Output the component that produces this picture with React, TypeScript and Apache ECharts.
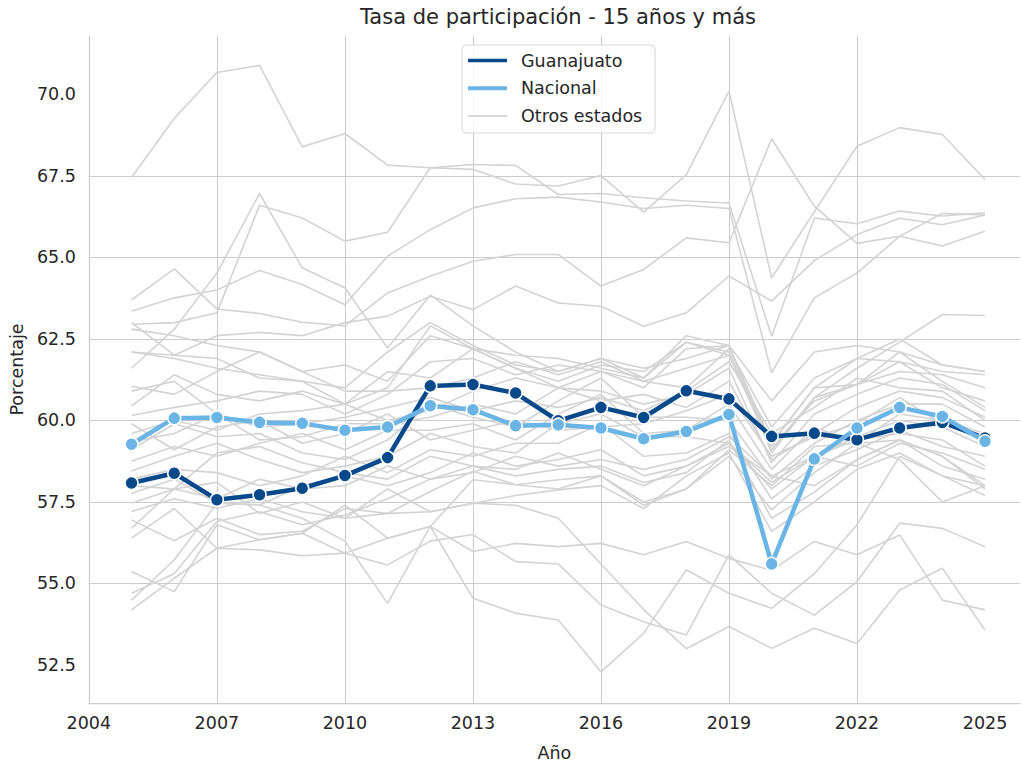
import React, { useEffect, useRef } from "react";
import * as echarts from "echarts";

const years = [2005, 2006, 2007, 2008, 2009, 2010, 2011, 2012, 2013, 2014, 2015, 2016, 2017, 2018, 2019, 2020, 2021, 2022, 2023, 2024, 2025];
const xTicks = [2004, 2007, 2010, 2013, 2016, 2019, 2022, 2025];
const yTicks = [52.5, 55, 57.5, 60, 62.5, 65, 67.5, 70];

const guanajuato = [58.08, 58.38, 57.57, 57.72, 57.92, 58.31, 58.86, 61.06, 61.1, 60.84, 59.99, 60.4, 60.09, 60.91, 60.66, 59.51, 59.61, 59.41, 59.77, 59.94, 59.46];
const nacional = [59.27, 60.07, 60.09, 59.94, 59.91, 59.7, 59.8, 60.45, 60.33, 59.84, 59.87, 59.77, 59.44, 59.66, 60.18, 55.6, 58.82, 59.77, 60.4, 60.12, 59.36];

const otrosEstados: number[][] = [
  [67.45, 69.26, 70.67, 70.89, 68.39, 68.8, 67.83, 67.75, 67.85, 67.82, 66.93, 66.96, 66.83, 66.73, 66.67, 62.58, 66.21, 66.03, 66.42, 66.27, 66.37],
  [62.95, 63.0, 63.3, 66.6, 66.21, 65.5, 65.77, 67.75, 67.7, 67.25, 67.19, 67.51, 66.39, 67.54, 70.1, 64.37, 66.4, 68.41, 68.98, 68.77, 67.39],
  [63.35, 63.76, 64.0, 64.6, 64.17, 63.55, 65.04, 65.85, 66.52, 66.8, 66.85, 66.7, 66.5, 66.6, 66.5, 61.46, 63.76, 64.52, 65.65, 66.35, 66.3],
  [63.7, 64.65, 63.42, 63.28, 63.01, 62.9, 63.91, 64.42, 64.88, 65.09, 65.09, 64.12, 64.63, 65.6, 65.45, 68.64, 66.57, 65.43, 65.65, 65.35, 65.8],
  [62.1, 62.0, 62.6, 62.7, 62.6, 63.0, 63.2, 63.81, 63.4, 64.12, 63.6, 63.5, 62.89, 63.3, 64.43, 63.66, 64.9, 65.7, 66.2, 66.0, 66.3],
  [61.6, 62.8, 64.52, 66.96, 64.68, 64.06, 62.22, 63.85, 62.9, 62.1, 61.5, 61.9, 61.3, 62.4, 62.0, 59.2, 60.6, 61.1, 61.8, 61.5, 61.4],
  [62.8, 62.6, 62.3, 62.1, 61.5, 61.7, 61.2, 62.6, 62.2, 62.0, 61.9, 61.6, 61.3, 62.6, 62.3, 59.0, 60.7, 61.6, 62.4, 63.25, 63.22],
  [63.0, 62.0, 61.9, 61.3, 61.2, 60.5, 61.0, 62.9, 62.2, 61.6, 61.0, 61.5, 61.0, 62.2, 62.3, 59.3, 61.0, 61.9, 62.5, 61.7, 61.5],
  [62.1, 61.9, 61.6, 61.4, 61.2, 61.0, 62.1, 63.0, 62.3, 61.7, 61.5, 61.9, 61.6, 61.9, 62.3, 60.6, 62.1, 62.3, 62.1, 61.7, 61.5],
  [61.05, 60.8, 61.5, 62.1, 61.5, 60.9, 60.9, 61.0, 61.3, 61.8, 61.4, 61.8, 61.2, 61.0, 62.2, 59.8, 61.3, 61.9, 61.8, 61.0, 60.6],
  [60.45, 61.4, 60.8, 60.6, 60.9, 60.5, 61.5, 61.3, 62.2, 61.6, 61.2, 61.7, 61.5, 62.4, 62.1, 59.3, 61.0, 61.1, 61.5, 61.4, 61.0],
  [60.15, 60.4, 60.6, 60.9, 60.8, 60.2, 60.8, 61.8, 61.9, 61.4, 61.7, 61.5, 61.2, 61.6, 62.0, 59.1, 60.7, 61.1, 62.1, 61.2, 60.4],
  [59.6, 60.0, 59.7, 60.2, 60.3, 60.5, 60.0, 60.3, 60.9, 61.3, 61.0, 60.9, 60.5, 60.8, 61.6, 58.7, 60.2, 60.8, 61.3, 61.1, 60.3],
  [59.35, 59.6, 60.2, 59.4, 59.5, 59.9, 59.9, 60.1, 60.5, 60.2, 61.0, 60.6, 60.8, 60.4, 61.2, 58.8, 59.6, 60.4, 60.9, 60.7, 60.1],
  [59.1, 59.9, 59.5, 59.6, 59.0, 58.8, 59.4, 60.5, 60.1, 59.8, 60.6, 61.3, 60.1, 60.1, 60.0, 58.2, 59.3, 60.0, 60.5, 60.5, 59.8],
  [58.75, 59.2, 58.9, 59.3, 59.6, 59.1, 59.7, 59.7, 59.9, 59.4, 60.2, 60.8, 59.6, 59.7, 60.5, 58.5, 59.8, 59.3, 60.2, 60.0, 59.6],
  [58.45, 58.9, 59.3, 58.8, 58.4, 58.6, 58.9, 59.6, 59.2, 59.0, 59.9, 60.2, 59.5, 59.5, 59.3, 57.9, 58.9, 59.5, 60.0, 59.8, 59.2],
  [58.2, 58.5, 58.4, 58.0, 58.3, 58.9, 58.4, 59.1, 58.9, 59.3, 59.3, 59.9, 58.9, 59.0, 59.6, 57.6, 58.6, 59.1, 59.7, 59.2, 58.9],
  [57.77, 58.2, 57.46, 57.41, 58.0, 58.3, 58.0, 58.4, 59.0, 58.6, 58.8, 59.1, 58.3, 58.6, 59.2, 58.3, 58.0, 58.8, 59.4, 58.9, 57.9],
  [57.46, 57.9, 58.1, 57.15, 57.5, 57.0, 57.15, 57.82, 58.44, 58.03, 58.18, 58.3, 57.5, 57.9, 58.9, 57.26, 58.4, 59.3, 59.4, 58.6, 58.2],
  [57.21, 57.6, 57.31, 57.6, 57.2, 57.0, 57.9, 57.2, 57.46, 57.7, 57.87, 58.0, 57.3, 58.3, 59.0, 56.6, 57.5, 58.5, 59.0, 58.3, 57.7],
  [56.95, 56.31, 57.0, 56.5, 56.6, 57.3, 57.15, 57.2, 57.46, 57.4, 57.0, 55.6, 54.2, 53.0, 53.68, 53.01, 53.63, 53.16, 54.8, 55.47, 53.57],
  [56.39, 57.3, 56.08, 56.34, 56.54, 57.4, 56.39, 56.75, 58.18, 58.03, 57.9, 58.3, 57.4, 57.9, 59.1, 58.0, 59.2, 59.3, 58.8, 57.5, 58.0],
  [54.19, 55.16, 56.08, 56.03, 55.85, 55.93, 56.39, 56.75, 55.98, 56.23, 56.13, 56.23, 55.88, 56.29, 55.77, 55.4, 56.29, 55.88, 56.49, 54.49, 54.19],
  [55.37, 54.75, 56.8, 56.34, 56.54, 55.93, 55.57, 56.3, 56.5, 55.67, 55.6, 54.34, 53.83, 53.42, 55.88, 54.7, 54.03, 55.06, 56.85, 56.69, 56.13],
  [54.49, 55.72, 57.46, 57.41, 57.0, 56.3, 54.39, 56.75, 54.55, 54.09, 53.88, 52.29, 53.47, 55.42, 54.7, 54.24, 55.3, 56.8, 58.9, 58.3, 58.0],
  [54.7, 55.3, 56.9, 57.2, 56.8, 57.1, 57.6, 58.2, 58.6, 58.3, 58.5, 58.6, 58.1, 58.4, 59.4, 57.0, 57.8, 58.8, 59.4, 58.9, 58.0],
  [58.0, 57.9, 59.0, 59.2, 58.7, 58.4, 58.2, 58.9, 58.6, 58.5, 59.0, 58.5, 58.0, 58.6, 59.3, 58.1, 58.9, 59.4, 59.6, 59.4, 58.6],
  [60.9, 61.2, 60.2, 59.8, 59.9, 60.1, 60.4, 60.7, 60.3, 60.6, 60.4, 60.7, 60.3, 60.9, 61.8, 59.6, 60.4, 61.3, 61.0, 60.9, 60.0],
  [59.9, 59.1, 59.8, 60.0, 59.3, 59.6, 60.2, 59.4, 59.7, 60.0, 59.7, 59.8, 59.9, 60.3, 60.8, 58.9, 59.5, 59.9, 60.7, 59.9, 59.5],
  [56.7, 57.9, 57.6, 58.2, 57.9, 58.0, 58.6, 58.2, 58.4, 58.9, 58.6, 58.8, 58.5, 58.8, 59.5, 58.3, 58.9, 58.6, 59.3, 59.0, 58.5],
];

const DARK = "#08498c";
const LIGHT = "#6ab4e6";
const GREY = "#d3d3d3";
const GRID = "#cccccc";
const TEXT = "#262626";
const FONT = '"DejaVu Sans", sans-serif';

const toPoints = (vals: number[]) => years.map((y, i) => [y, vals[i]]);

export default function App() {
  const ref = useRef<HTMLDivElement>(null);
  useEffect(() => {
    if (!ref.current) return;
    const chart = echarts.init(ref.current, undefined, { renderer: "svg" });
    const greySeries = otrosEstados.map((vals) => ({
      name: "Otros estados",
      type: "line",
      data: toPoints(vals),
      symbol: "none",
      silent: true,
      z: 1,
      lineStyle: { color: GREY, width: 1.6 },
    }));
    const legendX = 462;
    const legendY = 45;
    const rows = [
      { label: "Guanajuato", color: DARK, width: 3.5 },
      { label: "Nacional", color: LIGHT, width: 4 },
      { label: "Otros estados", color: GREY, width: 1.6 },
    ];
    const legendEls: any[] = [
      {
        type: "rect",
        shape: { x: legendX, y: legendY, width: 193, height: 88, r: 4 },
        style: { fill: "rgba(255,255,255,0.85)", stroke: "#d6d6d6", lineWidth: 1 },
        z: 100,
      },
    ];
    rows.forEach((r, i) => {
      const cy = legendY + 15.5 + i * 27.7;
      legendEls.push({
        type: "line",
        shape: { x1: legendX + 6, y1: cy, x2: legendX + 45, y2: cy },
        style: { stroke: r.color, lineWidth: r.width },
        z: 101,
      });
      legendEls.push({
        type: "text",
        x: legendX + 59,
        y: cy,
        style: { text: r.label, fill: TEXT, font: `17.5px ${FONT}`, align: "left", verticalAlign: "middle" },
        z: 101,
      });
    });

    chart.setOption({
      animation: false,
      textStyle: { fontFamily: FONT },
      title: {
        text: "Tasa de participación - 15 años y más",
        left: 553,
        top: 1,
        textAlign: "center",
        textStyle: { fontSize: 21, fontWeight: "normal", color: TEXT, fontFamily: FONT },
      },
      grid: { left: 88, right: 1, top: 36, bottom: 64, containLabel: false },
      xAxis: {
        type: "value",
        min: 2004,
        max: 2025.82,
        interval: 3,
        name: "Año",
        nameLocation: "middle",
        nameGap: 41,
        nameTextStyle: { fontSize: 17.5, color: TEXT, fontFamily: FONT },
        axisLine: { show: true, lineStyle: { color: GRID, width: 1.25 } },
        axisTick: { show: false, customValues: xTicks },
        axisLabel: {
          customValues: xTicks,
          formatter: (v: number) => String(v),
          fontSize: 17.5,
          color: TEXT,
          margin: 11,
          fontFamily: FONT,
        },
        splitLine: { show: true, showMaxLine: false, lineStyle: { color: GRID, width: 1.1 } },
      },
      yAxis: {
        type: "value",
        min: 51.335,
        max: 71.79,
        name: "Porcentaje",
        nameLocation: "middle",
        nameGap: 62,
        nameTextStyle: { fontSize: 17.5, color: TEXT, fontFamily: FONT },
        axisLine: { show: true, lineStyle: { color: GRID, width: 1.25 } },
        axisTick: { show: false, customValues: yTicks },
        axisLabel: {
          customValues: yTicks,
          formatter: (v: number) => v.toFixed(1),
          fontSize: 17.5,
          color: TEXT,
          margin: 13,
          fontFamily: FONT,
        },
        splitLine: { show: true, showMinLine: false, showMaxLine: false, lineStyle: { color: GRID, width: 1.1 } },
      },
      graphic: legendEls,
      series: [
        ...greySeries,
        {
          name: "Guanajuato",
          type: "line",
          data: toPoints(guanajuato),
          symbol: "circle",
          symbolSize: 13,
          showAllSymbol: true,
          z: 3,
          lineStyle: { color: DARK, width: 4.5 },
          itemStyle: { color: DARK, borderColor: "#ffffff", borderWidth: 1.5 },
        },
        {
          name: "Nacional",
          type: "line",
          data: toPoints(nacional),
          symbol: "circle",
          symbolSize: 13,
          showAllSymbol: true,
          z: 4,
          lineStyle: { color: LIGHT, width: 4.5 },
          itemStyle: { color: LIGHT, borderColor: "#ffffff", borderWidth: 1.5 },
        },
      ],
    });
    return () => chart.dispose();
  }, []);
  return <div ref={ref} style={{ position: "absolute", left: 0, top: 0, width: 1021, height: 767 }} />;
}
